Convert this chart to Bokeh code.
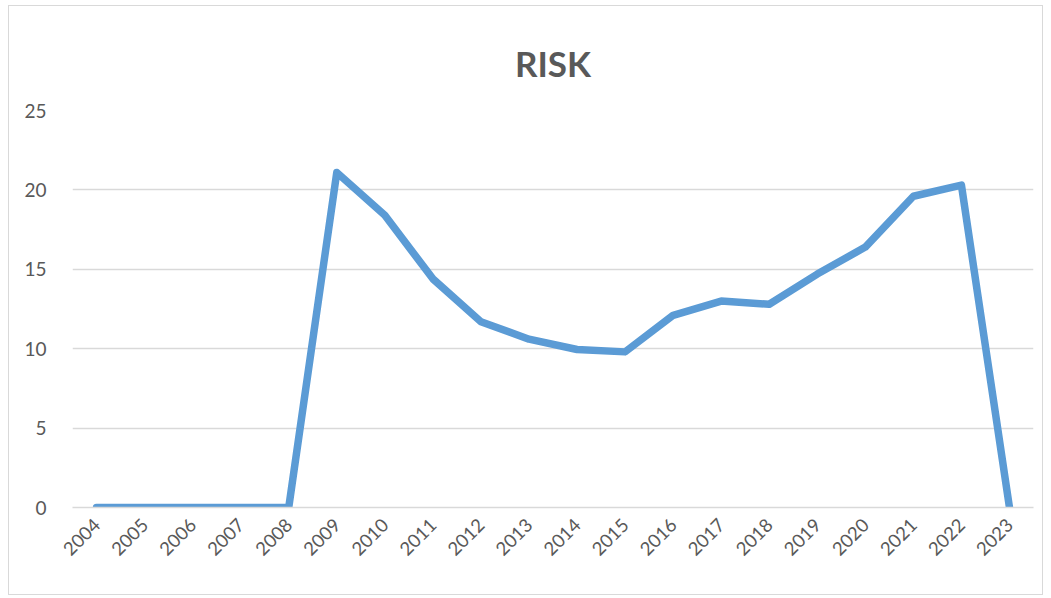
import math
from bokeh.plotting import figure
from bokeh.models import FactorRange, Range1d, SingleIntervalTicker
from bokeh.embed import file_html
from bokeh.resources import INLINE

years = [str(y) for y in range(2004, 2024)]
risk = [0, 0, 0, 0, 0, 21.1, 18.4, 14.4, 11.7, 10.6, 9.95, 9.8,
        12.1, 13.0, 12.8, 14.7, 16.4, 19.6, 20.3, 0]
title_text = "RISK"

p = figure(width=1035, height=590, output_backend="svg", toolbar_location=None,
           x_range=FactorRange(factors=years, range_padding=0),
           y_range=Range1d(0, 25),
           min_border_left=63, min_border_right=11, min_border_top=104, min_border_bottom=89)
p.styles = {"margin-left": "8px", "margin-top": "5px", "border": "1px solid #d9d9d9"}

p.title.text = title_text
p.title.align = "center"
p.title.text_font = "Lato"
p.title.text_font_size = "35px"
p.title.text_font_style = "bold"
p.title.text_color = "#595959"
p.title.standoff = 54

p.line(x=years, y=risk, line_color="#5B9BD5", line_width=7.5, line_join="round", line_cap="round")

p.outline_line_color = None
p.xgrid.grid_line_color = None
p.ygrid.grid_line_color = "#d9d9d9"
p.ygrid.grid_line_width = 1.5
p.yaxis.ticker = SingleIntervalTicker(interval=5)
p.yaxis.axis_line_color = None
p.yaxis.major_tick_line_color = None
p.yaxis.minor_tick_line_color = None
p.yaxis.major_label_standoff = 20
p.xaxis.axis_line_color = "#d9d9d9"
p.xaxis.axis_line_width = 1.5
p.xaxis.major_tick_line_color = None
p.xaxis.minor_tick_line_color = None
p.xaxis.major_label_orientation = math.pi / 4
p.xaxis.major_label_standoff = 8
for ax in (p.xaxis, p.yaxis):
    ax.major_label_text_font = "Lato"
    ax.major_label_text_color = "#595959"
p.xaxis.major_label_text_font_size = "18.5px"
p.yaxis.major_label_text_font_size = "19px"

open("out.html", "w").write(file_html(p, INLINE))
